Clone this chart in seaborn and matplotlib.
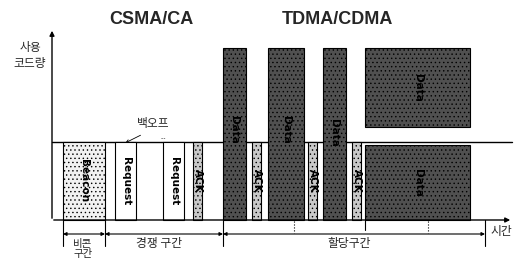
import matplotlib
matplotlib.use('Agg')
import matplotlib.pyplot as plt
import seaborn as sns

# --- data: blocks of the timeline (pixel space, y grows downward) ---
block_names = ['Beacon', 'Request', 'Request', 'ACK', 'Data', 'ACK', 'Data', 'ACK', 'Data', 'ACK', 'Data', 'Data']
block_left = [63, 115, 163, 193, 223, 252, 268, 308, 323, 352, 365, 365]
block_width = [42, 21, 21, 9, 23, 9, 36, 9, 23, 9, 105, 105]
block_top = [142, 142, 142, 142, 48, 142, 48, 142, 48, 142, 145, 48]
block_bottom = [220, 220, 220, 220, 220, 220, 220, 220, 220, 220, 220, 127]
label_y = [181, 181, 181, 181, 130, 181, 130, 181, 133, 181, 183, 88]

kind_color = {'Beacon': '#f2f2f2', 'Request': '#ffffff', 'ACK': '#c9c9c9', 'Data': '#505050'}
kind_hatch = {'Beacon': '....', 'Request': None, 'ACK': '....', 'Data': '....'}

# interval annotations under the time axis
span_names = ['비콘\n구간', '경쟁 구간', '할당구간']
span_start = [63, 105, 223]
span_end = [105, 223, 485]

sns.set_theme(style='white')
plt.rcParams['font.family'] = ['Noto Sans CJK KR', 'DejaVu Sans']
plt.rcParams['hatch.linewidth'] = 0.5
plt.rcParams['hatch.color'] = '#222222'

fig = plt.figure(figsize=(5.15, 2.59), dpi=100)
ax = fig.add_axes([0, 0, 1, 1])
ax.set_xlim(0, 515)
ax.set_ylim(259, 0)
ax.axis('off')

# blocks as bars
for name, x0, w, top, bot, ly in zip(block_names, block_left, block_width,
                                     block_top, block_bottom, label_y):
    ax.bar(x0, bot - top, width=w, bottom=top, align='edge',
           color=kind_color[name], edgecolor='black', linewidth=0.8,
           hatch=kind_hatch[name], zorder=2)
    ax.text(x0 + w / 2, ly, name, rotation=-90, ha='center', va='center',
            fontsize=7.5, fontweight='bold', family='DejaVu Sans',
            color='black', zorder=3)

# axes arrows
ax.annotate('', xy=(52, 28), xytext=(52, 221),
            arrowprops=dict(arrowstyle='-|>', color='black', lw=1, mutation_scale=7))
ax.annotate('', xy=(513, 220), xytext=(51, 220),
            arrowprops=dict(arrowstyle='-|>', color='black', lw=1, mutation_scale=7))
ax.plot([52, 512], [142, 142], color='black', lw=1, zorder=1)

# dimension lines
for x in [63, 105, 223, 485]:
    ax.plot([x, x], [220, 246], color='black', lw=0.8)
ax.plot([365, 365], [220, 230], color='black', lw=0.8)
for x in [294, 428]:
    ax.plot([x, x], [221, 233], color='black', lw=0.8, ls=':')
for name, a, b in zip(span_names, span_start, span_end):
    ax.annotate('', xy=(a, 234), xytext=(b, 234),
                arrowprops=dict(arrowstyle='<|-|>', color='black', lw=0.8,
                                mutation_scale=5, shrinkA=0, shrinkB=0))
    if '\n' in name:
        top_line, bottom_line = name.split('\n')
        ax.text((a + b) / 2 - 1, 244, top_line, ha='center', va='center', fontsize=7.5)
        ax.text((a + b) / 2 - 1, 253.5, bottom_line, ha='center', va='center', fontsize=7.5)
    else:
        ax.text((a + b) / 2 - 5, 244, name, ha='center', va='center', fontsize=8.5)

# texts
ax.text(151, 20, 'CSMA/CA', ha='center', va='center', fontsize=13,
        fontweight='bold', family='Liberation Sans')
ax.text(337, 19, 'TDMA/CDMA', ha='center', va='center', fontsize=13,
        fontweight='bold', family='Liberation Sans')
ax.text(30, 56, '사용\n코드량', ha='center', va='center', fontsize=8.5, linespacing=1.3)
ax.text(153, 124, '백오프', ha='center', va='center', fontsize=8.5)
ax.text(163, 137, '...', ha='center', va='center', fontsize=5)
ax.text(501, 232, '시간', ha='center', va='center', fontsize=8.5)
ax.annotate('', xy=(123, 144), xytext=(143, 134),
            arrowprops=dict(arrowstyle='->', color='black', lw=0.6, mutation_scale=5))

fig.savefig('out.png', dpi=100)
